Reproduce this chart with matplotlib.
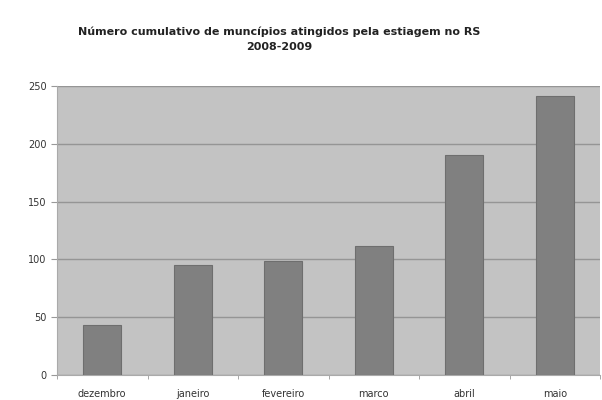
import matplotlib.pyplot as plt
import numpy as np

# dados
meses = ["dezembro", "janeiro", "fevereiro", "marco", "abril", "maio"]
municipios = [43, 95, 99, 112, 190, 241]
y_ticks = [0, 50, 100, 150, 200, 250]

fig = plt.figure(figsize=(6.02, 4.0), dpi=100)
ax = fig.add_axes([57 / 602, 25 / 400, 543 / 602, 289 / 400])

x = np.arange(len(meses))
ax.bar(x, municipios, width=0.42, color="#808080", edgecolor="#6e6e6e",
       linewidth=0.8, zorder=3)

ax.set_facecolor("#c3c3c3")
ax.set_xlim(-0.5, len(meses) - 0.5)
ax.set_ylim(0, 250)
ax.set_yticks(y_ticks)
ax.set_xticks(x)
ax.set_xticklabels(meses)
ax.set_xticks(np.arange(len(meses) + 1) - 0.5, minor=True)
ax.tick_params(axis="x", which="major", length=0, pad=10, labelsize=7, colors="#333333")
ax.tick_params(axis="x", which="minor", length=3, color="#999999")
ax.tick_params(axis="y", length=4, color="#999999", labelsize=7, colors="#333333")
ax.grid(axis="y", color="#959595", linewidth=1, zorder=1)

for side in ["top", "right"]:
    ax.spines[side].set_visible(False)
ax.spines["left"].set_color("#aaaaaa")
ax.spines["bottom"].set_color("#aaaaaa")

fig.text(279 / 602, 0.87, "Número cumulativo de muncípios atingidos pela estiagem no RS\n2008-2009",
         ha="center", va="bottom", fontsize=8, fontweight="bold", color="#222222",
         linespacing=1.65)

fig.savefig("out.png", dpi=100)
